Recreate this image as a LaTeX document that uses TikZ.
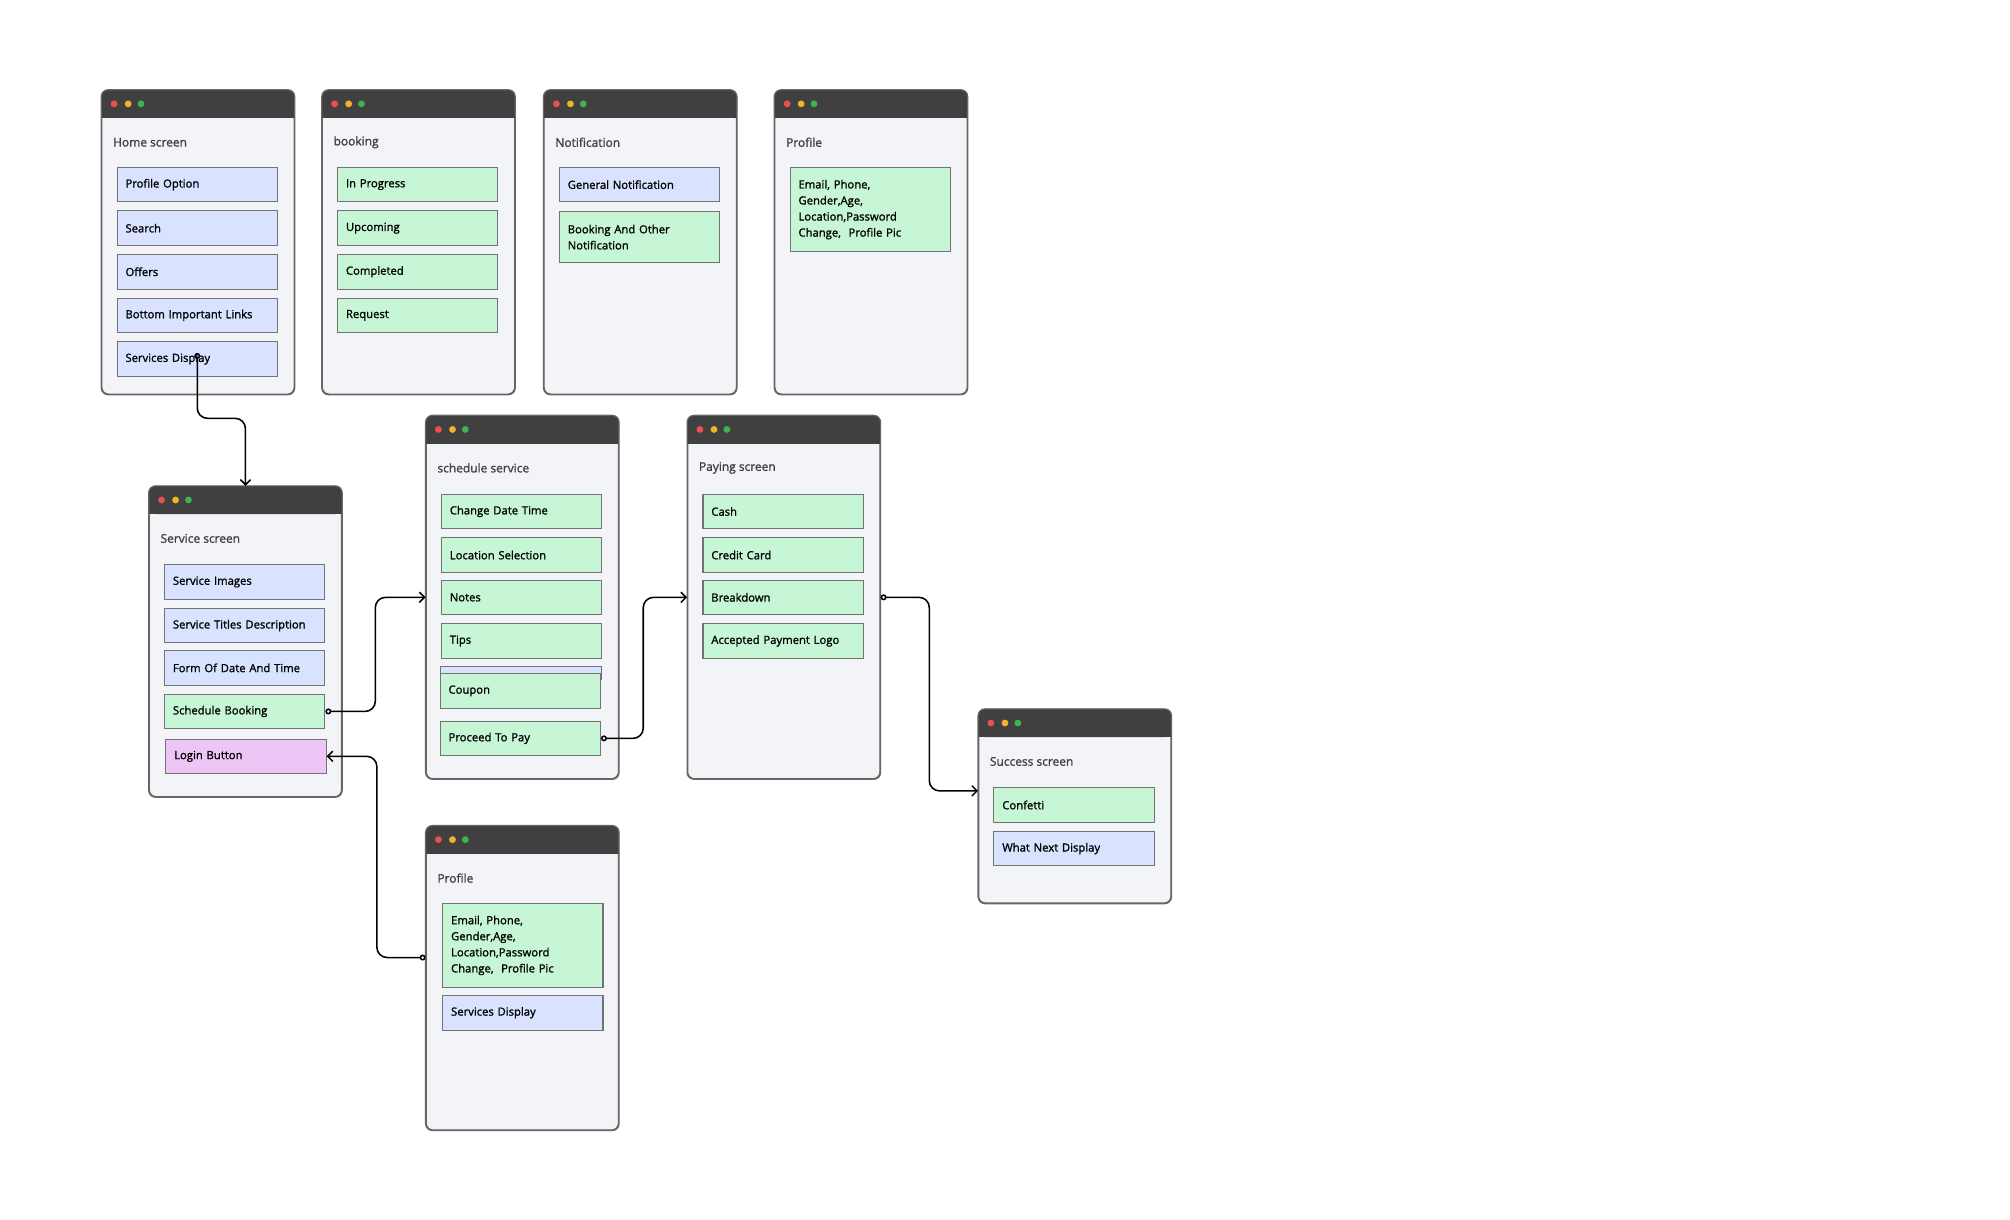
\documentclass[tikz,border=0pt]{standalone}
\usepackage{fontspec}
\setmainfont{Open Sans}
\newfontfamily\semibold[FakeBold=1.3]{Open Sans}
\usetikzlibrary{arrows.meta,positioning,calc}
\definecolor{winbg}{RGB}{243,244,247}
\definecolor{winbar}{RGB}{64,64,64}
\definecolor{itemblue}{RGB}{217,226,255}
\definecolor{itemgreen}{RGB}{198,246,213}
\definecolor{itempink}{RGB}{238,198,245}
\definecolor{dotred}{RGB}{235,80,80}
\definecolor{dotyellow}{RGB}{240,180,40}
\definecolor{dotgreen}{RGB}{60,180,80}
\tikzset{
    win/.style={draw=gray!80!black, fill=winbg, rounded corners=4pt, line width=0.7pt,
        minimum width=112.5pt, inner sep=0pt},
    wintitle/.style={font=\semibold\fontsize{7}{8}\selectfont, text=black!75, inner sep=0pt},
    item/.style={draw=black!55, line width=0.6pt, fill=item#1, minimum width=93.75pt,
        minimum height=20.25pt, text width=84pt, align=left, inner sep=0pt,
        font=\semibold\fontsize{6.6}{9.4}\selectfont, anchor=west},
    link/.style={line width=0.9pt, rounded corners=6pt, {Circle[open,length=3.5pt]}-{Straight Barb[length=3pt]}}
}
% window frame with title bar and three dots
\newcommand{\screenwin}[5]{% name, x, y, height, title
    \node[win, minimum height=#4*0.75pt, anchor=north west] (#1) at (#2,#3) {};
    \fill[winbar, rounded corners=4pt] (#1.north west) rectangle ($(#1.north east)+(0,22)$);
    \fill[winbar] ($(#1.north west)+(0,10)$) rectangle ($(#1.north east)+(0,22)$);
    \draw[gray!80!black, line width=0.7pt, rounded corners=4pt] (#1.north west) rectangle (#1.south east);
    \fill[dotred] ($(#1.north west)+(10,11)$) circle (2pt);
    \fill[dotyellow] ($(#1.north west)+(21,11)$) circle (2pt);
    \fill[dotgreen] ($(#1.north west)+(31,11)$) circle (2pt);
    \node[wintitle, anchor=west] at ($(#1.north west)+(9,41)$) {#5};
}
\begin{document}
\begin{tikzpicture}[x=0.75pt, y=-0.75pt]
    \useasboundingbox (0,0) rectangle (1568,951);
    \fill[white] (0,0) rectangle (1568,951);

    % Top row
    \screenwin{home}{79}{70}{237}{Home screen}
    \node[item=blue] (hpo) at (91,144) {Profile Option};
    \node[item=blue] (hse) at (91,178) {Search};
    \node[item=blue] (hof) at (91,212) {Offers};
    \node[item=blue] (hbl) at (91,246) {Bottom Important Links};
    \node[item=blue] (hsd) at (91,280) {Services Display};

    \screenwin{book}{251}{70}{237}{booking}
    \foreach \n/\y/\t in {bip/144/In Progress, bup/178/Upcoming, bco/212/Completed, brq/246/Request}
        \node[item=green] (\n) at (263,\y) {\t};

    \screenwin{noti}{424}{70}{237}{Notification}
    \node[item=blue] (ngn) at (436,144) {General Notification};
    \node[item=green, minimum height=30pt] (nbo) at (436,185) {Booking And Other\\Notification};

    \screenwin{prof}{604}{70}{237}{Profile}
    \node[item=green, minimum height=48.75pt] (pde) at (616,163.5)
        {Email, Phone,\\Gender,Age,\\Location,Password\\Change,\ \ Profile Pic};

    % Service screen
    \screenwin{svc}{116}{379}{242}{Service screen}
    \node[item=blue] (sim) at (128,454) {Service Images};
    \node[item=blue] (std) at (128,488) {Service Titles Description};
    \node[item=blue] (sfd) at (128,521) {Form Of Date And Time};
    \node[item=green] (ssb) at (128,555) {Schedule Booking};
    \node[item=pink] (slog) at (129,590) {Login Button};

    % Schedule service
    \screenwin{sch}{332}{324}{283}{schedule service}
    \foreach \n/\y/\t in {cdt/399/Change Date Time, clo/433/Location Selection, cno/466/Notes, cti/500/Tips}
        \node[item=green] (\n) at (344,\y) {\t};
    \fill[itemblue, draw=black!55, line width=0.6pt] (344,520) rectangle (469,530);
    \node[item=green] (ccp) at (343,539) {Coupon};
    \node[item=green] (spay) at (343,576) {Proceed To Pay};

    % Paying screen
    \screenwin{pyw}{536}{324}{283}{Paying screen}
    \foreach \n/\y/\t in {yca/399/Cash, ycc/433/Credit Card, ybd/466/Breakdown, yap/500/Accepted Payment Logo}
        \node[item=green] (\n) at (548,\y) {\t};

    % Success screen
    \screenwin{sucw}{763}{553}{151}{Success screen}
    \node[item=green] (uco) at (775,628) {Confetti};
    \node[item=blue] (uwn) at (775,662) {What Next Display};

    % Profile (bottom)
    \screenwin{pbw}{332}{644}{237}{Profile}
    \node[item=green, minimum height=48.75pt] (bde) at (345,737.5)
        {Email, Phone,\\Gender,Age,\\Location,Password\\Change,\ \ Profile Pic};
    \node[item=blue] (bsd) at (345,790) {Services Display};

    % Connectors
    \draw[link] ([yshift=3.5pt]hsd.center) -- ++(0,51) -| (svc.north);
    \draw[link] (ssb.east) -- ++(39,0) |- (sch.west);
    \draw[link] (spay.east) -- ++(33,0) |- (pyw.west);
    \draw[link] (pyw.east) -- ++(38,0) |- ($(sucw.west)+(0,-12)$);
    \draw[link] ($(pbw.west)+(0,-16)$) -- ++(-38,0) |- (slog.east);
\end{tikzpicture}
\end{document}
